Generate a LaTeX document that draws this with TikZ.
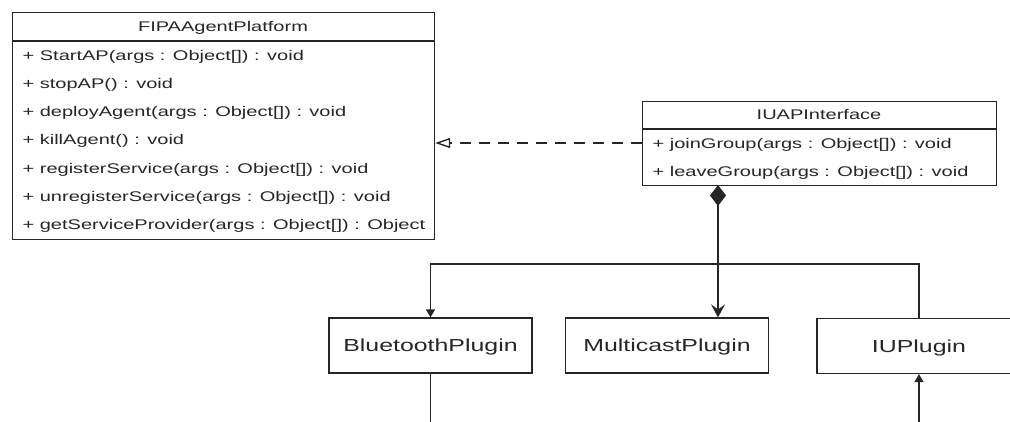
\documentclass[tikz,border=0pt]{standalone}
\usepackage{fontspec}
\setmainfont[FakeStretch=1.43]{Liberation Sans}
\usetikzlibrary{arrows.meta}
\definecolor{ink}{gray}{0.15}
\begin{document}
\begin{tikzpicture}[x=1pt,y=-1pt,line width=1.2pt,draw=ink,text=ink,
  classbox/.style={draw,rectangle,inner sep=0pt,anchor=north west},
  member/.style={anchor=base west,inner sep=0pt,font=\fontsize{14}{16}\selectfont},
  ctitle/.style={anchor=base,inner sep=0pt,font=\fontsize{14}{16}\selectfont},
  plugin/.style={draw,rectangle,inner sep=0pt,minimum width=203pt,minimum height=55pt,
    text height=12.6pt,text depth=0pt,font=\fontsize{17.4}{20}\selectfont},
  smallhead/.style={-{Triangle[length=8pt,width=9pt]}}]
\useasboundingbox (0,0) rectangle (1010,421);
\clip (0,0) rectangle (1010,421);

% FIPAAgentPlatform class
\node[classbox,minimum width=422pt,minimum height=227pt] (fipa) at (12,12) {};
\draw (fipa.north west) ++(0,29) -- ++(422,0);
\node[ctitle] (fipaname) at (223,31) {FIPAAgentPlatform};
\node[member] (f1) at (22,60.0)  {+ StartAP(args : Object[]) : void};
\node[member] (f2) at (22,88.3)  {+ stopAP() : void};
\node[member] (f3) at (22,116.6) {+ deployAgent(args : Object[]) : void};
\node[member] (f4) at (22,144.9) {+ killAgent() : void};
\node[member] (f5) at (22,173.2) {+ registerService(args : Object[]) : void};
\node[member] (f6) at (22,201.5) {+ unregisterService(args : Object[]) : void};
\node[member] (f7) at (22,229.8) {+ getServiceProvider(args : Object[]) : Object};

% IUAPInterface class
\node[classbox,minimum width=354pt,minimum height=84pt] (iuap) at (642,101) {};
\draw (iuap.north west) ++(0,28) -- ++(354,0);
\node[ctitle] (iuapname) at (819,119) {IUAPInterface};
\node[member] (j1) at (652,148) {+ joinGroup(args : Object[]) : void};
\node[member] (j2) at (652,176) {+ leaveGroup(args : Object[]) : void};

% plugins
\node[plugin] (bt) at (430.5,345.5) {BluetoothPlugin};
\node[plugin] (mc) at (667,345.5) {MulticastPlugin};
\node[plugin,minimum width=204pt] (iup) at (919,346) {IUPlugin};

% connectors
\coordinate (jg) at (642,143);
\coordinate (dtop) at (718,185);
\coordinate (floor) at (0,430);

\draw[line width=1.6pt,dash pattern=on 11pt off 8pt,
  -{Triangle[open,length=15pt,width=10pt,line width=1.4pt]}] (jg) -- (fipa.east |- jg);

\draw[line width=1.6pt,{Diamond[length=21pt,width=16pt]}-{Stealth[length=13pt,width=14pt,inset=5pt]}]
  (dtop) -- (mc.north -| dtop);

\draw[smallhead] (iup.north) -- ++(0,-54) -| (bt.north);
\draw (bt.south) -- (bt.south |- floor);
\draw[smallhead] (iup.south |- floor) -- (iup.south);
\end{tikzpicture}
\end{document}
